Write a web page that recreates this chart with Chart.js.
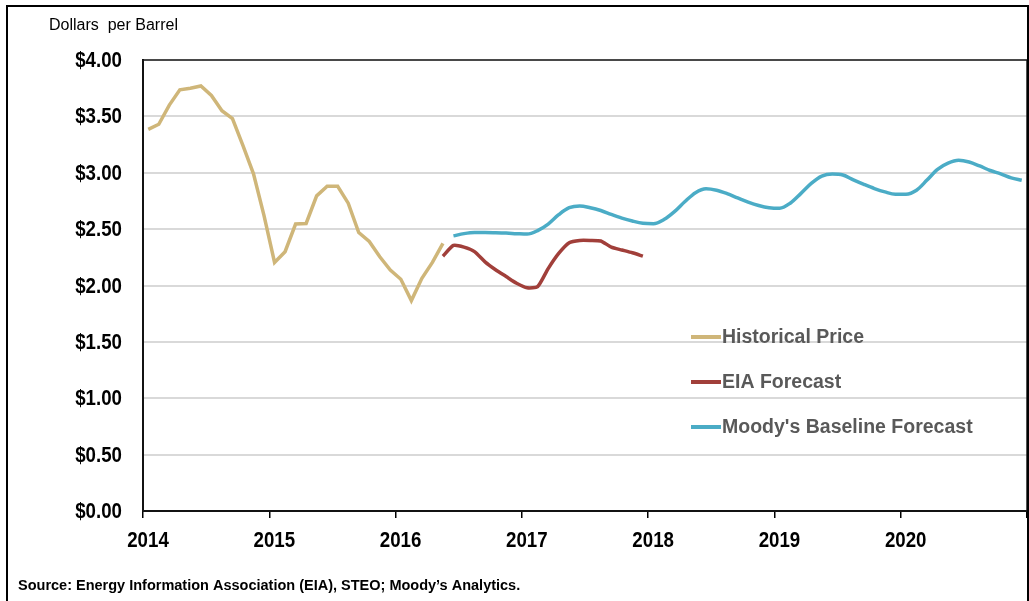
<!DOCTYPE html>
<html>
<head>
<meta charset="utf-8">
<script src="https://cdn.jsdelivr.net/npm/chart.js@4/dist/chart.umd.min.js"></script>
<style>
    html, body { margin: 0; padding: 0; background: #ffffff; }
    #wrap { width: 1029px; height: 601px; position: relative; }
</style>
</head>
<body>
<div id="wrap"><canvas id="myChart" width="1029" height="601"></canvas></div>
<script>
// Valores (USD por galon), mensuales
const firstYear = 2014;
const lastYear = 2021;
const yearTicks = [2014, 2015, 2016, 2017, 2018, 2019, 2020];
const priceTicks = [0, 0.5, 1, 1.5, 2, 2.5, 3, 3.5, 4];

// Historico: ene 2014 - may 2016
const historicalStart = 0; // meses desde ene 2014
const historicalPrice = [3.385, 3.43, 3.60, 3.736, 3.75, 3.77, 3.686, 3.55, 3.48, 3.24, 2.99, 2.62,
    2.205, 2.30, 2.545, 2.55, 2.795, 2.88, 2.88, 2.73, 2.47, 2.39, 2.255, 2.137,
    2.055, 1.866, 2.064, 2.205, 2.373];

// EIA: may 2016 - dic 2017
const eiaStart = 28;
const eiaForecast = [2.26, 2.355, 2.34, 2.30, 2.21, 2.14, 2.08, 2.02,
    1.98, 1.99, 2.15, 2.285, 2.38, 2.40, 2.40, 2.395, 2.34, 2.315, 2.29, 2.26];

// Moody's: jun 2016 - dic 2020
const moodysStart = 29;
const moodysForecast = [2.44, 2.46, 2.47, 2.47, 2.468, 2.465, 2.46,
    2.456, 2.487, 2.545, 2.628, 2.69, 2.706, 2.69, 2.665, 2.63, 2.598, 2.572, 2.552,
    2.548, 2.585, 2.655, 2.745, 2.823, 2.858, 2.845, 2.815, 2.777, 2.74, 2.71, 2.69,
    2.685, 2.73, 2.815, 2.905, 2.97, 2.988, 2.98, 2.937, 2.897, 2.86, 2.83, 2.81,
    2.81, 2.845, 2.935, 3.03, 3.085, 3.11, 3.095, 3.06, 3.02, 2.99, 2.955, 2.934];

const seriesNames = ["Historical Price", "EIA Forecast", "Moody's Baseline Forecast"];
const seriesColors = ["#cfb679", "#a13f3a", "#4bacc6"];

const fuente = "'Liberation Sans', Arial, sans-serif";

// convierte la serie mensual en puntos {x: año decimal, y}
function aPuntos(valores, inicio) {
    return valores.map((v, k) => ({ x: firstYear + (inicio + k + 0.5) / 12, y: v }));
}

// texto estrecho (no hay Arial Narrow instalada)
function textoEstrecho(ctx, texto, x, y, align) {
    ctx.save();
    ctx.translate(x, y);
    ctx.scale(0.85, 1);
    ctx.textAlign = align;
    ctx.fillText(texto, 0, 0);
    ctx.restore();
}

// Plugin para marco, etiquetas, titulo, leyenda y fuente
const decoracion = {
    id: "decoracion",
    afterDraw(chart) {
        const ctx = chart.ctx;
        const a = chart.chartArea;
        ctx.save();
        // borde del area del grafico
        ctx.strokeStyle = "#1a1a1a";
        ctx.lineWidth = 1.5;
        ctx.strokeRect(a.left, a.top, a.right - a.left, a.bottom - a.top);
        // marco exterior
        ctx.strokeStyle = "#000000";
        ctx.lineWidth = 2;
        ctx.strokeRect(7, 6, 1021, 620);

        ctx.fillStyle = "#000000";
        ctx.textBaseline = "middle";

        // etiquetas de los ejes
        ctx.font = "bold 22px " + fuente;
        priceTicks.forEach((v) => {
            const py = chart.scales.y.getPixelForValue(v);
            textoEstrecho(ctx, "$" + v.toFixed(2), 122, py + 1, "right");
        });
        yearTicks.forEach((v) => {
            const px = chart.scales.x.getPixelForValue(v);
            textoEstrecho(ctx, String(v), px + 5, 541, "center");
        });

        ctx.textAlign = "left";
        ctx.font = "16px " + fuente;
        ctx.fillText("Dollars  per Barrel", 49, 26);

        ctx.font = "bold 14.5px " + fuente;
        ctx.fillText("Source: Energy Information Association (EIA), STEO; Moody\u2019s Analytics.", 18, 586);

        // leyenda
        const ys = [337, 382, 427];
        chart.data.datasets.forEach((ds, i) => {
            ctx.strokeStyle = ds.borderColor;
            ctx.lineWidth = 4;
            ctx.beginPath();
            ctx.moveTo(691, ys[i]);
            ctx.lineTo(721, ys[i]);
            ctx.stroke();
            ctx.fillStyle = "#595959";
            ctx.font = "bold 19.5px " + fuente;
            ctx.fillText(ds.label, 722, ys[i] + 1);
        });
        ctx.restore();
    }
};

const ctx = document.getElementById("myChart").getContext("2d");
const myChart = new Chart(ctx, {
    type: "line",
    data: {
        datasets: [
            {
                label: seriesNames[0],
                data: aPuntos(historicalPrice, historicalStart),
                borderColor: seriesColors[0],
                borderWidth: 3.5,
                tension: 0,
            },
            {
                label: seriesNames[1],
                data: aPuntos(eiaForecast, eiaStart),
                borderColor: seriesColors[1],
                borderWidth: 3.5,
                tension: 0.2,
            },
            {
                label: seriesNames[2],
                data: aPuntos(moodysForecast, moodysStart),
                borderColor: seriesColors[2],
                borderWidth: 3.5,
                cubicInterpolationMode: "monotone",
            },
        ],
    },
    options: {
        responsive: false,
        animation: false,
        devicePixelRatio: 1,
        elements: { point: { radius: 0 } },
        layout: { padding: { top: 60, right: 2, left: 0, bottom: 0 } },
        plugins: {
            legend: { display: false },
            tooltip: { enabled: false },
        },
        scales: {
            x: {
                type: "linear",
                min: firstYear,
                max: lastYear,
                afterBuildTicks: (scale) => {
                    scale.ticks = yearTicks.concat([lastYear]).map((v) => ({ value: v }));
                },
                afterFit: (scale) => {
                    scale.height = 90;
                    scale.paddingLeft = 0;
                    scale.paddingRight = 0;
                },
                border: { color: "#000000", width: 2 },
                grid: { drawOnChartArea: false, drawTicks: true, tickLength: 7, color: "#000000", lineWidth: 1.5 },
                ticks: { display: false },
            },
            y: {
                min: 0,
                max: 4,
                afterBuildTicks: (scale) => {
                    scale.ticks = priceTicks.map((v) => ({ value: v }));
                },
                afterFit: (scale) => { scale.width = 143; },
                border: { color: "#000000", width: 2 },
                grid: { color: "#d9d9d9", lineWidth: 2, drawTicks: false },
                ticks: { display: false },
            },
        },
    },
    plugins: [decoracion],
});
</script>
</body>
</html>
